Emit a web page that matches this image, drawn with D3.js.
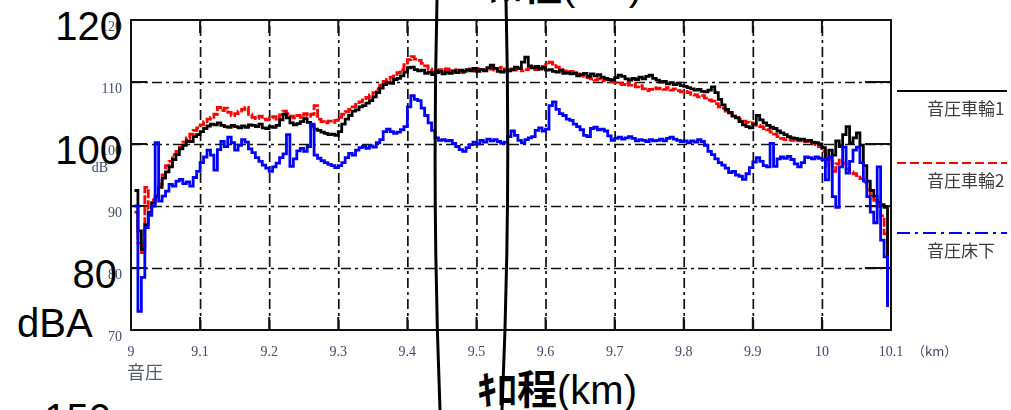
<!DOCTYPE html>
<html><head><meta charset="utf-8">
<script src="https://cdn.jsdelivr.net/npm/d3@7"></script>
<style>
html,body{margin:0;padding:0;background:#fff;overflow:hidden}
svg{display:block}
</style></head><body>
<svg id="chart" width="1011" height="410"></svg>
<script>
// Sound pressure along the line, sampled every 5 m from 9.005 km
const kmStart = 9.005, kmStep = 0.005;

const wheel1 = [
  92.5,86,83,87,89,90.5,91.5,93,94.5,95.5,96.3,97.5,98.3,99.2,99.8,100.5,100.4,101.2,101.5,102,
  102.5,102.9,103.2,103.1,103.4,103.0,102.8,102.7,103.0,102.8,102.6,102.9,102.7,103.1,103.0,102.8,103.2,102.6,102.5,102.8,
  102.7,103.0,103.9,104.8,104.2,103.4,103.1,103.3,103.6,104.1,103.5,102.9,102.4,102.2,101.9,101.7,101.5,101.6,101.4,102.0,
  103.2,104.0,104.6,105.3,105.5,106.0,106.2,106.6,107.0,107.6,108.3,109.0,109.6,109.9,109.8,110.4,110.6,111.0,111.6,112.3,
  112.4,112.0,111.8,111.9,111.4,111.6,111.2,111.5,111.7,111.3,111.6,111.4,111.8,111.5,111.9,111.7,112.0,111.8,112.2,111.7,
  112.0,111.8,112.3,112.7,112.2,111.7,111.6,111.9,111.8,112.0,112.4,112.2,113.2,114.0,112.6,112.3,112.5,112.1,112.3,111.9,
  112.0,111.7,111.6,111.9,111.4,111.5,111.3,111.4,111.0,111.2,111.4,110.9,111.3,111.0,111.2,110.8,110.6,110.4,110.3,110.7,
  111.1,110.9,110.5,110.3,110.6,110.4,110.8,110.5,110.9,111.1,110.6,110.3,110.0,110.1,109.7,109.9,109.6,109.8,109.4,109.3,
  109.1,108.9,108.7,108.8,108.5,108.4,108.7,109.2,108.3,107.2,106.3,105.6,105.1,104.5,104.2,103.6,103.1,102.8,102.6,103.2,
  104.6,103.9,103.4,103.0,102.7,102.5,102.1,101.8,101.5,101.2,101.0,100.9,100.7,100.8,100.5,100.6,100.3,100.2,100.0,99.4,
  97.5,99.0,98.2,100.5,99.6,101.5,102.8,100.2,101.0,101.8,99.8,96.5,94.0,92.5,91.6,90.6,90.2,89.8,74.0
];

const wheel2 = [
  89,84,82.5,93,89.5,91,92,93.5,95,96.5,97.2,98.3,98.8,99.5,100.3,101,101.6,102.2,102.6,103.1,
  103.6,104.0,104.3,104.8,105.9,105.4,105.8,105.1,104.6,104.9,105.3,105.6,105.9,104.8,104.3,104.1,104.5,104.0,103.9,104.2,
  104.4,104.0,104.7,105.3,104.9,104.5,104.2,104.6,104.3,104.9,104.5,104.8,106.2,104.0,103.6,103.4,103.7,103.5,103.8,104.3,
  104.8,105.2,105.6,106.0,106.4,106.8,107.1,107.5,107.9,108.3,108.9,109.5,110.1,110.4,110.8,111.2,111.5,112.0,112.8,113.6,
  114.1,113.7,113.5,113.0,112.6,112.1,111.6,111.8,112.0,111.7,112.1,111.9,111.6,112.0,111.8,111.5,111.9,112.1,111.8,112.2,
  112.0,111.9,112.3,112.1,111.9,112.2,112.4,112.0,111.8,112.1,111.9,112.2,111.8,112.0,112.3,112.1,112.0,112.2,112.5,112.8,
  113.2,112.9,112.4,112.0,111.8,111.6,111.7,111.5,111.3,111.1,110.9,110.7,110.5,110.3,110.5,110.2,110.4,110.1,110.0,109.9,
  109.8,109.6,109.9,109.5,109.7,109.2,109.4,108.9,108.6,108.8,109.1,108.9,109.0,108.8,109.1,108.7,108.9,108.6,108.4,108.5,
  108.3,108.0,107.9,107.6,107.8,107.4,107.1,106.9,106.5,106.0,105.8,105.3,105.0,104.6,104.3,104.0,103.7,103.5,103.4,103.2,
  103.0,102.8,102.5,102.3,101.9,101.6,101.2,100.9,100.7,100.8,100.6,100.9,100.5,100.7,100.4,100.6,100.2,99.9,99.6,98.8,
  96.3,97.5,95.6,96.8,97.4,96.9,96.0,95.5,95.2,94.9,94.4,93.8,92.6,91.8,90.9,89.9,88.4,85.5,80.0
];

const floorUnder = [
  90,73,78.5,86.5,88.5,90.0,100.2,90.8,91.6,92.4,93.5,93.2,94.0,94.3,93.6,93.9,93.2,94.6,95.6,97.0,
  97.9,99.0,98.2,95.8,99.1,100.4,99.6,101.1,100.2,99.0,99.8,100.7,100.3,99.2,98.6,97.8,97.2,96.6,96.1,95.6,
  96.3,96.9,97.8,98.4,101.5,96.4,97.6,98.9,99.3,98.8,99.6,103.2,98.2,97.7,97.3,97.0,96.7,96.5,96.2,96.5,
  97.0,97.8,98.5,98.2,99.0,99.4,99.6,99.3,99.7,99.5,100.2,100.7,102.0,102.4,102.0,101.7,101.9,102.3,102.8,106.0,
  107.8,107.2,107.0,105.8,104.6,103.4,102.2,101.0,100.6,100.7,100.5,100.6,100.1,99.6,99.1,98.8,99.4,99.9,100.3,100.0,
  100.6,100.3,100.8,100.5,100.7,100.4,100.1,100.3,101.2,102.1,101.4,100.6,100.2,100.7,101.0,101.2,102.2,102.6,102.1,102.4,
  106.2,106.8,105.6,104.9,104.6,104.0,103.8,103.2,102.8,102.3,101.4,101.2,102.5,102.7,102.3,102.4,102.1,101.3,100.6,100.9,
  101.1,100.8,101.0,101.2,100.9,100.5,100.7,100.6,100.4,100.7,100.5,100.6,100.8,100.5,100.9,101.1,100.8,100.6,100.4,100.5,
  100.2,100.5,100.3,100.7,100.4,99.8,98.8,98.3,97.6,97.0,96.6,96.1,95.4,95.6,95.0,94.8,94.3,95.2,96.2,97.1,
  97.8,97.2,96.5,96.3,100.1,96.4,97.6,97.9,97.7,98.0,97.5,96.8,96.3,97.0,97.9,97.8,97.6,97.9,97.7,97.5,
  94.2,97.9,91.5,89.8,96.3,99.5,95.3,97.2,99.0,99.5,97.0,94.0,91.5,89.0,87.3,96.3,84.5,81.8,73.7
];

const xTicks = [9, 9.1, 9.2, 9.3, 9.4, 9.5, 9.6, 9.7, 9.8, 9.9, 10, 10.1];
const xTickLabels = ["9","9.1","9.2","9.3","9.4","9.5","9.6","9.7","9.8","9.9","10","10.1"];
const yTicks = [70, 80, 90, 100, 110, 120];
const yTickLabels = ["70","80","90","100","110","120"];
const seriesNames = ["音圧車輪1", "音圧車輪2", "音圧床下"];
const seriesColors = ["#000000", "#ff0000", "#0000ff"];
const bigTicks = [120, 100, 80];
const bigTickLabels = ["120", "100", "80"];

const plot = {left: 131, top: 20, right: 891, bottom: 330};
const x = d3.scaleLinear().domain([9, 10.1]).range([plot.left, plot.right]);
const y = d3.scaleLinear().domain([70, 120]).range([plot.bottom, plot.top]);

const svg = d3.select("#chart");
const defs = svg.append("defs");
defs.append("filter").attr("id", "soft")
  .attr("x", "-20%").attr("y", "-20%").attr("width", "140%").attr("height", "140%")
  .append("feGaussianBlur").attr("stdDeviation", 0.45);
defs.append("clipPath").attr("id", "plotClip").append("rect")
  .attr("x", plot.left).attr("y", plot.top)
  .attr("width", plot.right - plot.left).attr("height", plot.bottom - plot.top);

const gridDash = "10,4,3,4";
const plotH = plot.bottom - plot.top, plotW = plot.right - plot.left;

// dash-dot grid
svg.append("g")
  .attr("transform", `translate(0,${plot.bottom})`)
  .call(d3.axisBottom(x).tickValues(xTicks.slice(1, -1)).tickSize(-plotH).tickFormat(""))
  .call(g => g.select(".domain").remove())
  .selectAll("line").attr("stroke", "#111").attr("stroke-width", 1.7).attr("stroke-dasharray", gridDash);
svg.append("g")
  .attr("transform", `translate(${plot.left},0)`)
  .call(d3.axisLeft(y).tickValues(yTicks.slice(1, -1)).tickSize(-plotW).tickFormat(""))
  .call(g => g.select(".domain").remove())
  .selectAll("line").attr("stroke", "#111").attr("stroke-width", 1.7).attr("stroke-dasharray", gridDash);

// solid inner tick marks on all four sides
const tickG = svg.append("g").attr("stroke", "#111").attr("stroke-width", 2);
const innerX = xTicks.slice(1, -1), innerY = yTicks.slice(1, -1);
tickG.selectAll(".tb").data(innerX).join("line")
  .attr("x1", d => x(d)).attr("x2", d => x(d)).attr("y1", plot.bottom).attr("y2", plot.bottom - 13);
tickG.selectAll(".tt").data(innerX).join("line")
  .attr("x1", d => x(d)).attr("x2", d => x(d)).attr("y1", plot.top).attr("y2", plot.top + 13);
tickG.selectAll(".tl").data(innerY).join("line")
  .attr("x1", plot.left).attr("x2", plot.left + 16).attr("y1", d => y(d)).attr("y2", d => y(d));
tickG.selectAll(".tr").data(innerY).join("line")
  .attr("x1", plot.right - 26).attr("x2", plot.right).attr("y1", d => y(d)).attr("y2", d => y(d));

// series
const series = [wheel2, wheel1, floorUnder];
const seriesIdx = [1, 0, 2];
const line = d3.line()
  .x((d, i) => x(kmStart + i * kmStep))
  .y(d => y(d))
  .curve(d3.curveStepAfter);
const lineG = svg.append("g").attr("clip-path", "url(#plotClip)");
series.forEach((vals, k) => {
  const s = seriesIdx[k];
  lineG.append("path")
    .datum(vals)
    .attr("d", line)
    .attr("fill", "none")
    .attr("stroke", seriesColors[s])
    .attr("stroke-width", 2.8)
    .attr("stroke-linejoin", "miter")
    .attr("stroke-dasharray", s === 1 ? "9,2" : null);
});

// frame
svg.append("rect")
  .attr("x", plot.left).attr("y", plot.top)
  .attr("width", plotW).attr("height", plotH)
  .attr("fill", "none").attr("stroke", "#111").attr("stroke-width", 2);

// small axis labels
const small = svg.append("g").attr("filter", "url(#soft)")
  .attr("font-family", "'Liberation Serif', serif").attr("font-size", 14).attr("fill", "#3f4a6a");
small.selectAll(".yl").data(yTicks).join("text")
  .attr("x", 122).attr("y", d => y(d) + 11)
  .attr("text-anchor", "end")
  .text((d, i) => yTickLabels[i]);
small.append("text").attr("x", 108).attr("y", 172).attr("text-anchor", "end").text("dB");
small.selectAll(".xl").data(xTicks).join("text")
  .attr("x", d => x(d)).attr("y", 356)
  .attr("text-anchor", "middle")
  .text((d, i) => xTickLabels[i]);
small.append("text").attr("x", 912).attr("y", 356).attr("font-size", 13).text("（km）")
  .attr("font-family", "'Noto Sans CJK JP', serif");
small.append("text").attr("x", 127).attr("y", 379)
  .attr("font-family", "'Noto Sans CJK JP', sans-serif").attr("font-size", 18).attr("fill", "#555b66")
  .text("音圧");

// legend
const legendY = [91, 163, 233];
const legendDash = [null, "9,4", "13,5,3,5"];
const legend = svg.append("g");
seriesNames.forEach((name, i) => {
  legend.append("line")
    .attr("x1", 897).attr("x2", 1007)
    .attr("y1", legendY[i]).attr("y2", legendY[i])
    .attr("stroke", seriesColors[i]).attr("stroke-width", 2)
    .attr("stroke-dasharray", legendDash[i]);
  legend.append("text")
    .attr("x", 927).attr("y", legendY[i] + 24)
    .attr("font-family", "'Noto Sans CJK JP', sans-serif").attr("font-size", 17)
    .attr("fill", "#3c3c3c").attr("filter", "url(#soft)")
    .text(name);
});

// large annotation layer
const big = svg.append("g").attr("font-family", "'Liberation Sans', Arial, sans-serif")
  .attr("font-size", 40).attr("fill", "#000");
big.selectAll(".bt").data(bigTicks).join("text")
  .attr("x", (d, i) => i === 2 ? 117 : 122)
  .attr("y", d => y(d) + 20)
  .attr("text-anchor", "end")
  .text((d, i) => bigTickLabels[i]);
big.append("text").attr("x", 17).attr("y", 337).text("dBA");
big.append("text").attr("x", 111).attr("y", 432).attr("text-anchor", "end").text("150");

function kmTitle(xPos, yPos) {
  const t = big.append("text").attr("x", xPos).attr("y", yPos);
  t.append("tspan").attr("font-family", "'Noto Sans CJK JP', sans-serif").attr("font-weight", 700).text("ｷﾛ程");
  t.append("tspan").text("(km)");
}
kmTitle(482, 0);
kmTitle(477, 404);

// bracket strokes
svg.append("path").attr("d", "M437,0 Q432,205 440,410")
  .attr("fill", "none").attr("stroke", "#000").attr("stroke-width", 3);
svg.append("path").attr("d", "M506,0 Q511,205 502,410")
  .attr("fill", "none").attr("stroke", "#000").attr("stroke-width", 3);
</script>
</body></html>
